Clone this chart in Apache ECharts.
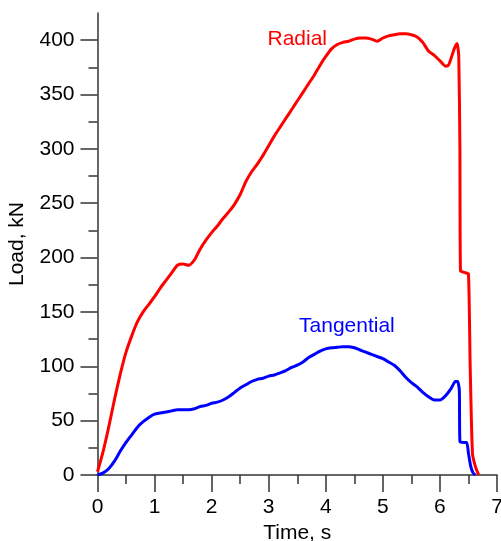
<!DOCTYPE html>
<html>
<head>
<meta charset="utf-8">
<script src="https://cdn.jsdelivr.net/npm/echarts@6/dist/echarts.min.js"></script>
<style>
  html, body { margin: 0; padding: 0; background: #fff; }
  #main { width: 501px; height: 541px; }
</style>
</head>
<body>
<div id="main"></div>
<script>
// time (s) / load (kN)
const radialTime = [0, 0.1, 0.2, 0.3, 0.4, 0.5, 0.6, 0.7, 0.8, 0.9, 1.0, 1.1, 1.2, 1.3, 1.4, 1.5, 1.6, 1.7, 1.8, 1.9,
  2.0, 2.1, 2.2, 2.3, 2.4, 2.5, 2.6, 2.7, 2.8, 2.9, 3.0, 3.1, 3.2, 3.3, 3.4, 3.5, 3.6, 3.7, 3.8, 3.9,
  4.0, 4.1, 4.2, 4.3, 4.4, 4.5, 4.6, 4.7, 4.8, 4.9, 5.0, 5.1, 5.2, 5.3, 5.4, 5.5, 5.6, 5.7, 5.8, 5.9,
  6.0, 6.1, 6.15, 6.2, 6.25, 6.3, 6.33, 6.35, 6.36, 6.45, 6.5, 6.53, 6.57, 6.62, 6.68]
const radialLoad = [3, 22, 45, 70, 93, 113, 128, 141, 150, 157, 164, 172, 179, 186, 193, 194, 193, 198, 208, 216,
  223, 229, 236, 242, 249, 258, 270, 279, 286, 294, 303, 312, 320, 328, 336, 344, 352, 360, 368, 377,
  385, 392, 396, 398, 399, 401, 402, 402, 401, 399, 402, 404, 405, 406, 406, 405, 403, 398, 390, 386,
  381, 376, 377, 384, 392, 397, 385, 300, 188, 186, 185, 100, 20, 8, 0]

const tangTime = [0, 0.1, 0.2, 0.3, 0.4, 0.5, 0.6, 0.7, 0.8, 0.9, 1.0, 1.1, 1.2, 1.3, 1.4, 1.5, 1.6, 1.7, 1.8, 1.9,
  2.0, 2.1, 2.2, 2.3, 2.4, 2.5, 2.6, 2.7, 2.8, 2.9, 3.0, 3.1, 3.2, 3.3, 3.4, 3.5, 3.6, 3.7, 3.8, 3.9,
  4.0, 4.1, 4.2, 4.3, 4.4, 4.5, 4.6, 4.7, 4.8, 4.9, 5.0, 5.1, 5.2, 5.3, 5.4, 5.5, 5.6, 5.7, 5.8, 5.9,
  6.0, 6.1, 6.2, 6.27, 6.31, 6.34, 6.35, 6.42, 6.47, 6.5, 6.54, 6.58, 6.62]
const tangLoad = [0, 2, 6, 13, 22, 30, 37, 44, 49, 53, 56, 57, 58, 59, 60, 60, 60, 61, 63, 64,
  66, 67, 69, 72, 76, 80, 83, 86, 88, 89, 91, 92, 94, 96, 99, 101, 104, 108, 111, 114,
  116, 117, 117.5, 118, 118, 117, 115, 113, 111, 109, 107, 104, 101, 96, 90, 85, 81, 76, 72, 69,
  69, 73, 80, 86, 86, 78, 31, 30, 30, 20, 8, 2, 0]

// where the curve names sit, in data units
const radialLabelAt = [3.5, 401]
const tangLabelAt = [4.37, 137]

const yMajor = [0, 50, 100, 150, 200, 250, 300, 350, 400]

const toPairs = (xs, ys) => xs.map((x, i) => [x, ys[i]])

const font = 'Liberation Sans, Arial, sans-serif'
const axisColor = '#333'

var myChart = echarts.init(document.getElementById('main'), null, { renderer: 'canvas' })
const option = {
  animation: false,
  backgroundColor: '#fff',
  grid: { left: 97.5, right: 4, top: 13, bottom: 66, containLabel: false, outerBoundsMode: 'none' },
  xAxis: [
    {
      type: 'value',
      min: 0,
      max: 7,
      interval: 0.5,
      name: 'Time, s',
      nameLocation: 'middle',
      nameGap: 36,
      nameTextStyle: { fontFamily: font, fontSize: 21, color: '#000' },
      axisLine: { onZero: false, lineStyle: { color: axisColor, width: 1.5 } },
      axisTick: { length: 9, lineStyle: { color: axisColor, width: 1.5 } },
      axisLabel: {
        margin: 22,
        fontFamily: font,
        fontSize: 21,
        color: '#000',
        formatter: (v) => (v % 1 === 0 ? String(v) : '')
      },
      splitLine: { show: false }
    },
    {
      type: 'value',
      position: 'bottom',
      min: 0,
      max: 7,
      interval: 1,
      axisLine: { show: false, onZero: false },
      axisTick: { length: 17, lineStyle: { color: axisColor, width: 1.5 } },
      axisLabel: { show: false },
      splitLine: { show: false }
    }
  ],
  yAxis: [
    {
      type: 'value',
      min: 0,
      max: 425,
      interval: 25,
      name: 'Load, kN',
      nameLocation: 'middle',
      nameGap: 70,
      nameTextStyle: { fontFamily: font, fontSize: 21, color: '#000' },
      axisLine: { show: true, lineStyle: { color: axisColor, width: 1.5 } },
      axisTick: { show: true, length: 9, lineStyle: { color: axisColor, width: 1.5 } },
      axisLabel: {
        margin: 23,
        fontFamily: font,
        fontSize: 21,
        color: '#000',
        showMaxLabel: false,
        formatter: (v) => (v % 50 === 0 ? String(v) : '')
      },
      splitLine: { show: false }
    },
    {
      type: 'value',
      position: 'left',
      min: 0,
      max: 425,
      interval: 50,
      axisLine: { show: false },
      axisTick: { show: true, length: 17, customValues: yMajor, lineStyle: { color: axisColor, width: 1.5 } },
      axisLabel: { show: false },
      splitLine: { show: false }
    }
  ],
  series: [
    {
      name: 'Radial',
      type: 'line',
      data: toPairs(radialTime, radialLoad),
      showSymbol: false,
      smooth: 0.2,
      lineStyle: { color: '#ff0000', width: 3 },
      markPoint: {
        symbol: 'circle',
        symbolSize: 0,
        data: [{ coord: radialLabelAt }],
        label: {
          show: true,
          formatter: 'Radial',
          fontFamily: font,
          fontSize: 21,
          color: '#ff0000'
        }
      }
    },
    {
      name: 'Tangential',
      type: 'line',
      data: toPairs(tangTime, tangLoad),
      showSymbol: false,
      smooth: 0.2,
      lineStyle: { color: '#0000ff', width: 3 },
      markPoint: {
        symbol: 'circle',
        symbolSize: 0,
        data: [{ coord: tangLabelAt }],
        label: {
          show: true,
          formatter: 'Tangential',
          fontFamily: font,
          fontSize: 21,
          color: '#0000ff'
        }
      }
    }
  ]
}

myChart.setOption(option)
</script>
</body>
</html>
